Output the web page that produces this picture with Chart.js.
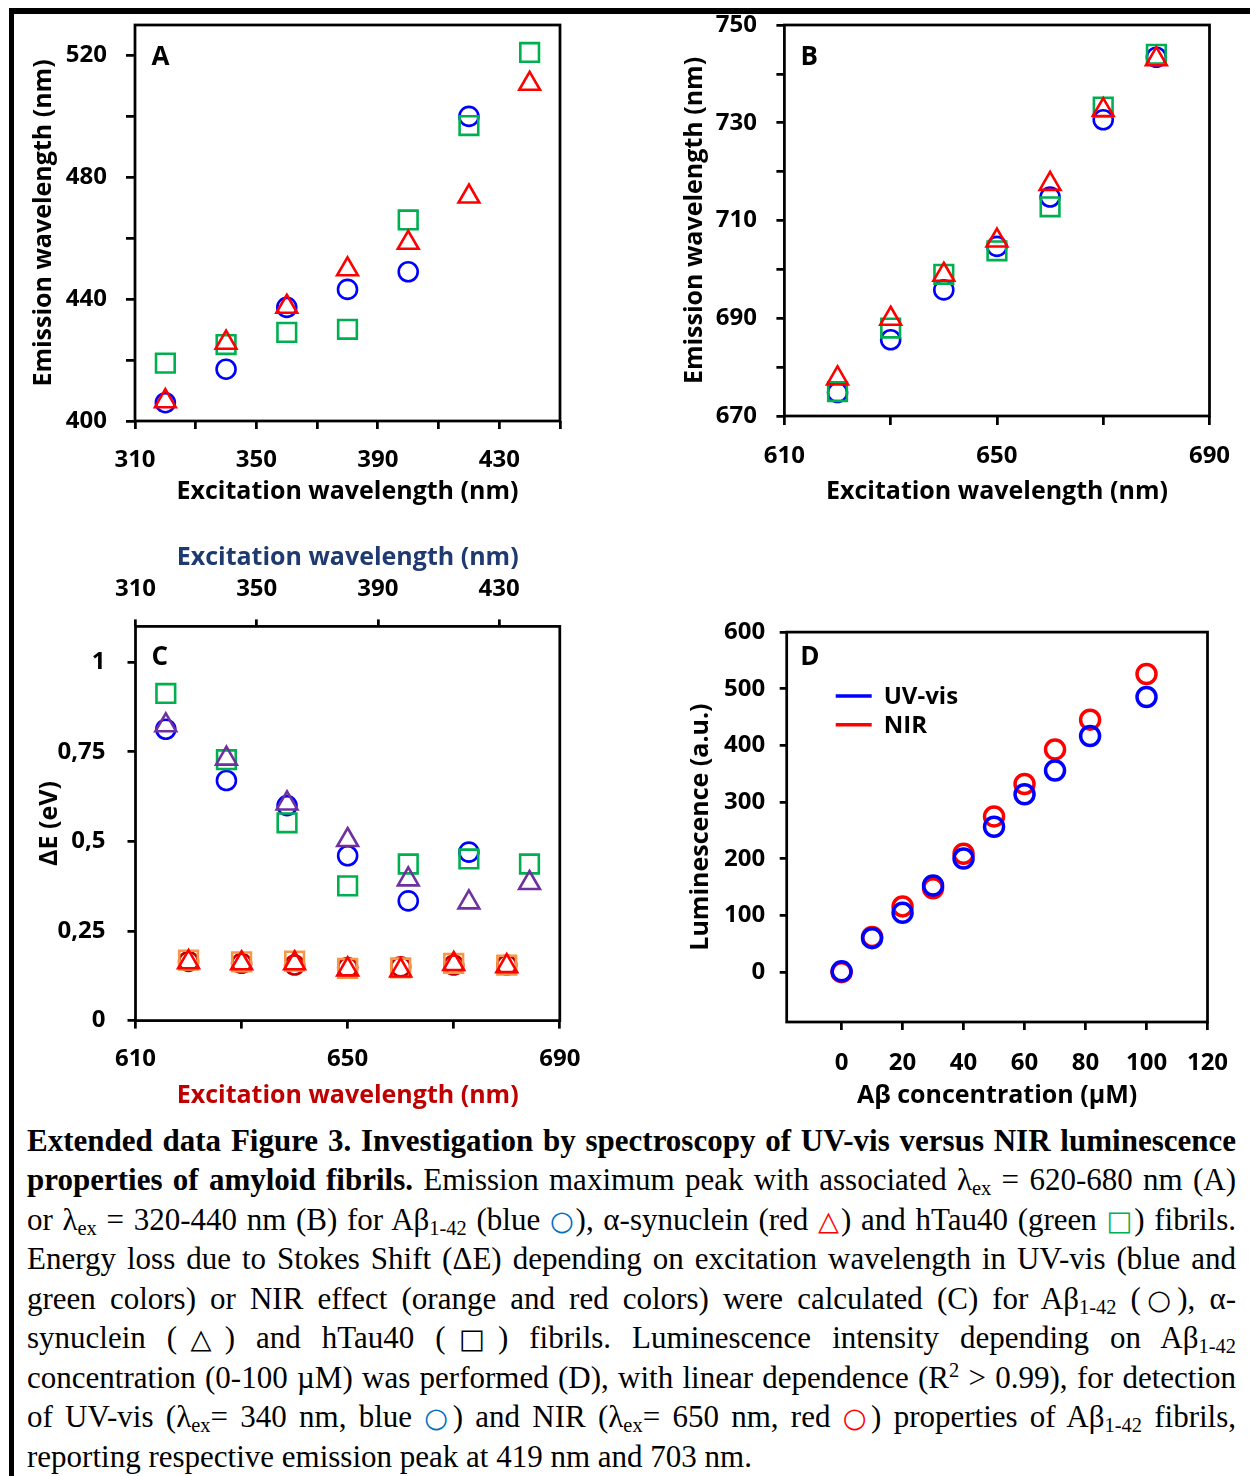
<!DOCTYPE html>
<html>
<head>
<meta charset="utf-8">
<script src="https://cdn.jsdelivr.net/npm/chart.js@4.4.1/dist/chart.umd.min.js"></script>
<style>
  html, body { margin: 0; padding: 0; background: #fff; }
  body { width: 1250px; height: 1476px; position: relative; overflow: hidden; }
  canvas { position: absolute; }
  .bar { position: absolute; background: #000; }
  .cap { position: absolute; left: 27px; width: 1209px; font-family: "Liberation Serif", "Times New Roman", serif;
         font-size: 31px; line-height: 39.5px; height: 39.5px; white-space: nowrap; color: #000; }
  .j { text-align: justify; text-align-last: justify; }
  sub { font-size: 0.66em; vertical-align: -0.25em; line-height: 0; }
  sup { font-size: 0.66em; vertical-align: 0.55em; line-height: 0; }
  .sym { font-family: "DejaVu Sans", sans-serif; font-size: 0.88em; line-height: 1; }
</style>
</head>
<body>
<div class="bar" style="left:9px;top:8px;width:1241px;height:6px"></div>
<div class="bar" style="left:9px;top:8px;width:5px;height:1468px"></div>

<canvas id="cA" width="625" height="520" style="left:0;top:0;width:625px;height:520px"></canvas>
<canvas id="cB" width="625" height="520" style="left:625px;top:0;width:625px;height:520px"></canvas>
<canvas id="cC" width="625" height="600" style="left:0;top:520px;width:625px;height:600px"></canvas>
<canvas id="cD" width="625" height="600" style="left:625px;top:520px;width:625px;height:600px"></canvas>

<div class="cap j" style="top:1120.5px"><b>Extended data Figure 3. Investigation by spectroscopy of UV-vis versus NIR luminescence</b></div>
<div class="cap j" style="top:1160px"><b>properties of amyloid fibrils.</b> Emission maximum peak with associated λ<sub>ex</sub> = 620-680 nm (A)</div>
<div class="cap j" style="top:1199.5px">or λ<sub>ex</sub> = 320-440 nm (B) for Aβ<sub>1-42</sub> (blue <span class="sym" style="color:#0070C0">○</span>), α-synuclein (red <span class="sym" style="color:#FF0000">△</span>) and hTau40 (green <span class="sym" style="color:#00B050">□</span>) fibrils.</div>
<div class="cap j" style="top:1239px">Energy loss due to Stokes Shift (ΔE) depending on excitation wavelength in UV-vis (blue and</div>
<div class="cap j" style="top:1278.5px">green colors) or NIR effect (orange and red colors) were calculated (C) for Aβ<sub>1-42</sub> (<span class="sym">○</span>), α-</div>
<div class="cap j" style="top:1318px">synuclein (<span class="sym">△</span>) and hTau40 (<span class="sym" style="font-weight:bold">□</span>) fibrils. Luminescence intensity depending on Aβ<sub>1-42</sub></div>
<div class="cap j" style="top:1357.5px">concentration (0-100 µM) was performed (D), with linear dependence (R<sup>2</sup> &gt; 0.99), for detection</div>
<div class="cap j" style="top:1397px">of UV-vis (λ<sub>ex</sub>= 340 nm, blue <span class="sym" style="color:#0070C0">○</span>) and NIR (λ<sub>ex</sub>= 650 nm, red <span class="sym" style="color:#FF0000">○</span>) properties of Aβ<sub>1-42</sub> fibrils,</div>
<div class="cap" style="top:1436.5px">reporting respective emission peak at 419 nm and 703 nm.</div>

<script>
// ---------- DATA ----------
const exUV  = [320, 340, 360, 380, 400, 420, 440];   // excitation (nm), UV-vis
const exNIR = [620, 630, 640, 650, 660, 670, 680];   // excitation (nm), NIR

// Panel A: emission wavelength (nm) vs UV-vis excitation
const aAbeta = [406, 417, 437.3, 443.2, 449, 500, null];
const aSyn   = [406.5, 425.7, 437.5, 449.8, 458.5, 473.7, 510.7];
const aTau   = [419, 425.1, 429.1, 430.1, 466, 497, 521];

// Panel B: emission wavelength (nm) vs NIR excitation
const bAbeta = [674.8, 685.6, 695.8, 704.7, 714.8, 730.6, 743.4];
const bSyn   = [677.7, 689.9, 698.9, 705.9, 717.5, 732.6, 743];
const bTau   = [675, 688, 699, 703.8, 712.8, 733.2, 744];

// Panel C: energy loss ΔE (eV)
const cAbetaUV  = [0.813, 0.670, 0.600, 0.460, 0.334, 0.470, null];
const cSynUV    = [0.824, 0.731, 0.606, 0.504, 0.394, 0.330, 0.384];
const cTauUV    = [0.913, 0.728, 0.552, 0.376, 0.437, 0.451, 0.437];
const cAbetaNIR = [0.165, 0.160, 0.155, 0.148, 0.150, 0.155, 0.155];
const cSynNIR   = [0.163, 0.160, 0.160, 0.143, 0.140, 0.158, 0.152];
const cTauNIR   = [0.169, 0.164, 0.166, 0.146, 0.147, 0.160, 0.155];

// Panel D: luminescence (a.u.) vs Aβ concentration (µM)
const dConc = [0, 10, 20, 30, 40, 50, 60, 70, 81.5, 100];
const dUV   = [1.4, 60, 104.8, 153, 200.5, 256.6, 313.9, 355.7, 416.6, 485.4];
const dNIR  = [0, 62, 116, 148, 209, 274.8, 332, 393, 445.5, 526];

// Tick values
const aYTicks = [400, 420, 440, 460, 480, 500, 520];
const aYLabels = [400, 440, 480, 520];
const uvXTicks = [310, 330, 350, 370, 390, 410, 430, 450];
const uvXLabels = [310, 350, 390, 430];
const bYTicks = [670, 680, 690, 700, 710, 720, 730, 740, 750];
const bYLabels = [670, 690, 710, 730, 750];
const nirXTicks = [610, 630, 650, 670, 690];
const nirXLabels = [610, 650, 690];
const cYTicks = [0, 0.25, 0.5, 0.75, 1];
const cTopTicks = [310, 350, 390, 430];
const dYTicks = [0, 100, 200, 300, 400, 500, 600];
const dXTicks = [0, 20, 40, 60, 80, 100, 120];

// ---------- HELPERS ----------
const FONT = '"Open Sans", "DejaVu Sans", sans-serif';
const pts = (xs, ys) => xs.map((x, i) => ({x, y: ys[i]})).filter(p => p.y !== null);

function axis(o) {
  return {
    type: 'linear', position: o.position, min: o.min, max: o.max,
    afterBuildTicks: s => { s.ticks = o.ticks.map(v => ({value: v})); },
    afterFit: s => {
      if (o.position === 'top' || o.position === 'bottom') s.height = o.size; else s.width = o.size;
      s.paddingTop = 0; s.paddingBottom = 0; s.paddingLeft = 0; s.paddingRight = 0;
    },
    grid: { display: true, drawOnChartArea: false, drawTicks: true, tickLength: o.tickLen,
            tickWidth: 2.75, tickColor: '#000', color: '#000', lineWidth: 2.75 },
    border: { display: false },
    ticks: { autoSkip: false, maxRotation: 0, minRotation: 0, padding: o.pad, color: '#000',
             font: { family: FONT, weight: 'bold', size: 24 },
             callback: v => o.label(v) },
    title: { display: true, text: o.title, color: o.titleColor || '#000',
             font: { family: FONT, weight: 'bold', size: 25 }, padding: o.titlePad }
  };
}
const only = arr => v => arr.includes(v) ? String(v) : '';

const panelPlugin = {
  id: 'panel',
  beforeDatasetsDraw(chart, args, opts) {
    const {ctx, chartArea: a} = chart;
    ctx.save();
    ctx.strokeStyle = '#000';
    ctx.lineWidth = 2.75;
    ctx.strokeRect(a.left, a.top, a.right - a.left, a.bottom - a.top);
    ctx.restore();
  },
  afterDraw(chart, args, opts) {
    const {ctx, chartArea: a} = chart;
    ctx.save();
    ctx.fillStyle = '#000';
    ctx.font = 'bold 26px ' + FONT;
    ctx.textBaseline = 'alphabetic';
    ctx.textAlign = 'left';
    ctx.fillText(opts.letter, a.left + opts.dx, a.top + opts.dy);
    if (opts.legend) {
      ctx.font = 'bold 24px ' + FONT;
      ctx.textBaseline = 'middle';
      opts.legend.forEach((it, i) => {
        const y = a.top + 64 + i * 28.6;
        ctx.strokeStyle = it.color;
        ctx.lineWidth = 3.5;
        ctx.beginPath();
        ctx.moveTo(a.left + 49, y);
        ctx.lineTo(a.left + 85, y);
        ctx.stroke();
        ctx.fillStyle = '#000';
        ctx.fillText(it.text, a.left + 97, y + 1);
      });
    }
    ctx.restore();
  }
};

function ds(label, data, style, color, r, bw, xAxisID) {
  const d = { label, data, pointStyle: style, borderColor: color, backgroundColor: 'rgba(0,0,0,0)',
           pointBorderColor: color, pointBackgroundColor: 'rgba(0,0,0,0)',
           pointRadius: r, pointHoverRadius: r, pointBorderWidth: bw, showLine: false };
  if (xAxisID) d.xAxisID = xAxisID;
  return d;
}
const CIRC_R = 9.5, SQ_R = 13.2, TRI_R = 12, BW = 2.6;

function baseOpts(padding, scales, panel) {
  return {
    responsive: false, animation: false, devicePixelRatio: 1,
    layout: { padding },
    plugins: { legend: { display: false }, tooltip: { enabled: false }, panel },
    scales
  };
}

// ---------- PANEL A ----------
new Chart(document.getElementById('cA'), {
  type: 'scatter',
  data: { datasets: [
    ds('α-synuclein', pts(exUV, aSyn), 'triangle', '#FF0000', TRI_R, BW),
    ds('hTau40', pts(exUV, aTau), 'rect', '#00B050', SQ_R, BW),
    ds('Aβ1-42', pts(exUV, aAbeta), 'circle', '#0000FF', CIRC_R, BW)
  ]},
  options: baseOpts({left: 0, top: 25, right: 65, bottom: 0}, {
    x: axis({position: 'bottom', min: 310, max: 450, ticks: uvXTicks, label: only(uvXLabels),
             size: 99, tickLen: 8, pad: 17, title: 'Excitation wavelength (nm)', titlePad: {top: 0, bottom: 13}}),
    y: axis({position: 'left', min: 400, max: 530, ticks: aYTicks, label: only(aYLabels),
             size: 135, tickLen: 9, pad: 19, title: 'Emission wavelength (nm)', titlePad: {top: 29, bottom: 0}})
  }, {letter: 'A', dx: 16.5, dy: 40}),
  plugins: [panelPlugin]
});

// ---------- PANEL B ----------
new Chart(document.getElementById('cB'), {
  type: 'scatter',
  data: { datasets: [
    ds('α-synuclein', pts(exNIR, bSyn), 'triangle', '#FF0000', TRI_R, BW),
    ds('hTau40', pts(exNIR, bTau), 'rect', '#00B050', SQ_R, BW),
    ds('Aβ1-42', pts(exNIR, bAbeta), 'circle', '#0000FF', CIRC_R, BW)
  ]},
  options: baseOpts({left: 0, top: 25, right: 40.5, bottom: 0}, {
    x: axis({position: 'bottom', min: 610, max: 690, ticks: nirXTicks, label: only(nirXLabels),
             size: 104, tickLen: 9, pad: 16.5, title: 'Excitation wavelength (nm)', titlePad: {top: 0, bottom: 13}}),
    y: axis({position: 'left', min: 670, max: 750, ticks: bYTicks, label: only(bYLabels),
             size: 159.4, tickLen: 8, pad: 19.5, title: 'Emission wavelength (nm)', titlePad: {top: 54.7, bottom: 0}})
  }, {letter: 'B', dx: 16, dy: 40}),
  plugins: [panelPlugin]
});

// ---------- PANEL C ----------
const commaLabel = v => cYTicks.includes(v) ? String(v).replace('.', ',') : '';
new Chart(document.getElementById('cC'), {
  type: 'scatter',
  data: { datasets: [
    ds('α-synuclein NIR', pts(exNIR, cSynNIR), 'triangle', '#FF0000', TRI_R, BW, 'x'),
    ds('hTau40 NIR', pts(exNIR, cTauNIR), 'rect', '#F79646', SQ_R, BW, 'x'),
    ds('Aβ1-42 NIR', pts(exNIR, cAbetaNIR), 'circle', '#C00000', CIRC_R, BW, 'x'),
    ds('α-synuclein UV-vis', pts(exUV, cSynUV), 'triangle', '#7030A0', TRI_R, BW, 'x2'),
    ds('hTau40 UV-vis', pts(exUV, cTauUV), 'rect', '#00B050', SQ_R, BW, 'x2'),
    ds('Aβ1-42 UV-vis', pts(exUV, cAbetaUV), 'circle', '#0000FF', CIRC_R, BW, 'x2')
  ]},
  options: baseOpts({left: 0, top: 0, right: 65.2, bottom: 0}, {
    x: axis({position: 'bottom', min: 610, max: 690, ticks: nirXTicks, label: only(nirXLabels),
             size: 99.4, tickLen: 8, pad: 16.6, title: 'Excitation wavelength (nm)', titleColor: '#C00000',
             titlePad: {top: 0, bottom: 9}}),
    x2: axis({position: 'top', min: 310, max: 450, ticks: cTopTicks, label: only(cTopTicks),
             size: 106.4, tickLen: 7, pad: 15.6, title: 'Excitation wavelength (nm)', titleColor: '#1F3A70',
             titlePad: {top: 23.3, bottom: 0}}),
    y: axis({position: 'left', min: 0, max: 1.1, ticks: cYTicks, label: commaLabel,
             size: 135.5, tickLen: 8, pad: 22, title: 'ΔE (eV)', titlePad: {top: 35, bottom: 0}})
  }, {letter: 'C', dx: 16, dy: 39}),
  plugins: [panelPlugin]
});

// ---------- PANEL D ----------
new Chart(document.getElementById('cD'), {
  type: 'scatter',
  data: { datasets: [
    ds('UV-vis', pts(dConc, dUV), 'circle', '#0000FF', 9.5, 3.5),
    ds('NIR', pts(dConc, dNIR), 'circle', '#FF0000', 9.5, 3.5)
  ]},
  options: baseOpts({left: 0, top: 112.1, right: 42.5, bottom: 0}, {
    x: axis({position: 'bottom', min: -18, max: 120, ticks: dXTicks, label: only(dXTicks),
             size: 98, tickLen: 8, pad: 19, title: 'Aβ concentration (µM)', titlePad: {top: 0, bottom: 9}}),
    y: axis({position: 'left', min: -88, max: 600, ticks: dYTicks, label: only(dYTicks),
             size: 161.7, tickLen: 7, pad: 14.5, title: 'Luminescence (a.u.)', titlePad: {top: 60.7, bottom: 0}})
  }, {letter: 'D', dx: 13.6, dy: 33, legend: [{text: 'UV-vis', color: '#0000FF'}, {text: 'NIR', color: '#FF0000'}]}),
  plugins: [panelPlugin]
});
</script>
</body>
</html>
